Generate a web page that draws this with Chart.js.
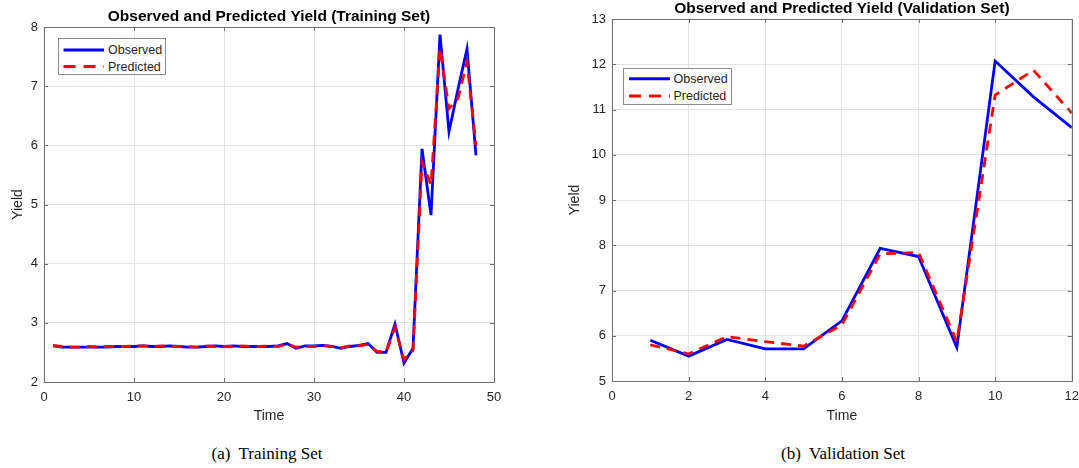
<!DOCTYPE html>
<html>
<head>
<meta charset="utf-8">
<title>Observed and Predicted Yield</title>
<script src="https://cdn.jsdelivr.net/npm/chart.js@4.4.0/dist/chart.umd.min.js"></script>
<style>
  body { margin:0; background:#fff; width:1079px; height:468px; position:relative; overflow:hidden;
         font-family:"Liberation Sans", Arial, sans-serif; }
  .panel { position:absolute; top:0; height:430px; }
  #p1 { left:0; width:540px; }
  #p2 { left:560px; width:527px; }
  .legend { position:absolute; box-sizing:border-box; border:1px solid #8a8a8a; background:#fff;
            font-size:12.5px; color:#262626; }
  .legend svg { position:absolute; left:0; top:0; }
  .legend span { position:absolute; line-height:16px; white-space:nowrap; }
  .caption { position:absolute; top:444px; width:240px; text-align:center; white-space:pre;
             font-family:"Liberation Serif", "Times New Roman", serif; font-size:17px; line-height:20px; color:#000; }
</style>
</head>
<body>
<div class="panel" id="p1"><canvas id="train-chart"></canvas></div>
<div class="panel" id="p2"><canvas id="valid-chart"></canvas></div>

<!-- legends (MATLAB style boxes inside the axes) -->
<div class="legend" style="left:58px;top:38px;width:108px;height:37px;">
  <svg width="50" height="37">
    <line x1="4.5" y1="11" x2="45" y2="11" stroke="#0000ff" stroke-width="3"/>
    <line x1="4.5" y1="27.5" x2="45" y2="27.5" stroke="#ff0000" stroke-width="3" stroke-dasharray="12 8"/>
  </svg>
  <span style="left:49px;top:3px;">Observed</span>
  <span style="left:49px;top:19.5px;">Predicted</span>
</div>
<div class="legend" style="left:623px;top:68px;width:109px;height:37px;">
  <svg width="50" height="37">
    <line x1="5" y1="9.7" x2="46" y2="9.7" stroke="#0000ff" stroke-width="3"/>
    <line x1="5" y1="27" x2="46" y2="27" stroke="#ff0000" stroke-width="3" stroke-dasharray="12 8"/>
  </svg>
  <span style="left:49.5px;top:1.7px;">Observed</span>
  <span style="left:49.5px;top:19px;">Predicted</span>
</div>

<div class="caption" style="left:147px;">(a)  Training Set</div>
<div class="caption" style="left:723px;">(b)  Validation Set</div>

<script>
// --- data ---
const trainTime = [1,2,3,4,5,6,7,8,9,10,11,12,13,14,15,16,17,18,19,20,21,22,23,24,
                   25,26,27,28,29,30,31,32,33,34,35,36,37,38,39,40,41,42,43,44,45,46,47,48];
const trainObserved = [2.61,2.59,2.59,2.59,2.59,2.59,2.59,2.60,2.60,2.60,
                       2.61,2.60,2.60,2.61,2.60,2.59,2.59,2.60,2.61,2.60,
                       2.61,2.60,2.60,2.60,2.60,2.61,2.65,2.57,2.61,2.61,
                       2.62,2.60,2.57,2.60,2.62,2.65,2.50,2.50,2.98,2.32,
                       2.57,5.94,4.82,7.87,6.23,6.95,7.63,5.83];
const trainPredicted = [2.62,2.60,2.59,2.59,2.60,2.59,2.60,2.60,2.60,2.61,
                        2.61,2.60,2.61,2.60,2.60,2.60,2.59,2.61,2.60,2.60,
                        2.60,2.61,2.60,2.60,2.61,2.60,2.64,2.59,2.60,2.60,
                        2.61,2.60,2.58,2.61,2.61,2.64,2.52,2.50,2.92,2.38,
                        2.53,5.72,5.33,7.64,6.62,6.79,7.41,6.00];

const validTime = [1,2,3,4,5,6,7,8,9,10,11,12];
const validObserved  = [5.90,5.55,5.92,5.71,5.71,6.33,7.93,7.75,5.74,12.07,11.28,10.60];
const validPredicted = [5.80,5.60,5.98,5.87,5.77,6.24,7.81,7.84,5.87,11.32,11.87,10.92];

// axis ranges / tick steps
const trainX = [0, 50, 10], trainY = [2, 8, 1];
const validX = [0, 12, 2],  validY = [5, 13, 1];

const BLUE = '#0000ff', RED = '#ff0000', AXIS = '#6e6e6e', GRID = '#e3e3e3', TEXT = '#262626';
const FONT = 'Liberation Sans';

// box around axes, inward tick marks, title centred over plot area
const matlabAxes = {
  id: 'matlabAxes',
  afterDraw(chart, args, opts) {
    const {ctx, chartArea: a, scales} = chart;
    ctx.save();
    ctx.strokeStyle = AXIS; ctx.lineWidth = 1;
    ctx.strokeRect(Math.round(a.left)+0.5, Math.round(a.top)+0.5, Math.round(a.right-a.left), Math.round(a.bottom-a.top));
    ctx.beginPath();
    scales.x.ticks.forEach(t => {
      const px = Math.round(scales.x.getPixelForValue(t.value)) + 0.5;
      ctx.moveTo(px, a.bottom); ctx.lineTo(px, a.bottom - 4);
      ctx.moveTo(px, a.top);    ctx.lineTo(px, a.top + 4);
    });
    scales.y.ticks.forEach(t => {
      const py = Math.round(scales.y.getPixelForValue(t.value)) + 0.5;
      ctx.moveTo(a.left, py);  ctx.lineTo(a.left + 4, py);
      ctx.moveTo(a.right, py); ctx.lineTo(a.right - 4, py);
    });
    ctx.stroke();
    ctx.fillStyle = '#000';
    ctx.font = 'bold 15.5px "' + FONT + '"';
    ctx.textAlign = 'center'; ctx.textBaseline = 'alphabetic';
    ctx.fillText(opts.text, (a.left + a.right) / 2, opts.y);
    ctx.restore();
  }
};

function makeChart(id, time, obs, pred, xr, yr, o) {
  const toPts = arr => arr.map((v, i) => ({x: time[i], y: v}));
  return new Chart(document.getElementById(id), {
    type: 'line',
    data: {
      datasets: [
        { label:'Observed', data: toPts(obs), borderColor: BLUE, borderWidth: 2.8,
          pointRadius: 0, tension: 0, order: 1 },
        { label:'Predicted', data: toPts(pred), borderColor: RED, borderWidth: 2.8,
          borderDash: [10, 7], pointRadius: 0, tension: 0, order: 0 }
      ]
    },
    options: {
      responsive: true, maintainAspectRatio: false, animation: false,
      layout: { padding: { top: o.top, right: o.right, left: 0, bottom: 0 } },
      plugins: { legend: { display: false }, tooltip: { enabled: false },
                 matlabAxes: { text: o.title, y: o.titleY } },
      scales: {
        x: { type: 'linear', min: xr[0], max: xr[1],
             afterFit: s => { s.height = o.xh; },
             grid: { color: GRID, drawTicks: false },
             border: { display: true, color: AXIS },
             ticks: { stepSize: xr[2], padding: 8, color: TEXT, font: { family: FONT, size: 13 } },
             title: { display: true, text: 'Time', color: TEXT, padding: { top: 0, bottom: 5 },
                      font: { family: FONT, size: 14 } } },
        y: { min: yr[0], max: yr[1],
             afterFit: s => { s.width = o.yw; },
             grid: { color: GRID, drawTicks: false },
             border: { display: true, color: AXIS },
             ticks: { stepSize: yr[2], padding: 6, color: TEXT, font: { family: FONT, size: 13 } },
             title: { display: true, text: 'Yield', color: TEXT, padding: { top: o.ytp, bottom: 0 },
                      font: { family: FONT, size: 14 } } }
      }
    },
    plugins: [matlabAxes]
  });
}

makeChart('train-chart', trainTime, trainObserved, trainPredicted, trainX, trainY,
  { title: 'Observed and Predicted Yield (Training Set)', titleY: 21, top: 27, right: 46, xh: 48, yw: 44, ytp: 10 });
makeChart('valid-chart', validTime, validObserved, validPredicted, validX, validY,
  { title: 'Observed and Predicted Yield (Validation Set)', titleY: 13, top: 19, right: 0, xh: 49, yw: 52, ytp: 7 });
</script>
</body>
</html>
